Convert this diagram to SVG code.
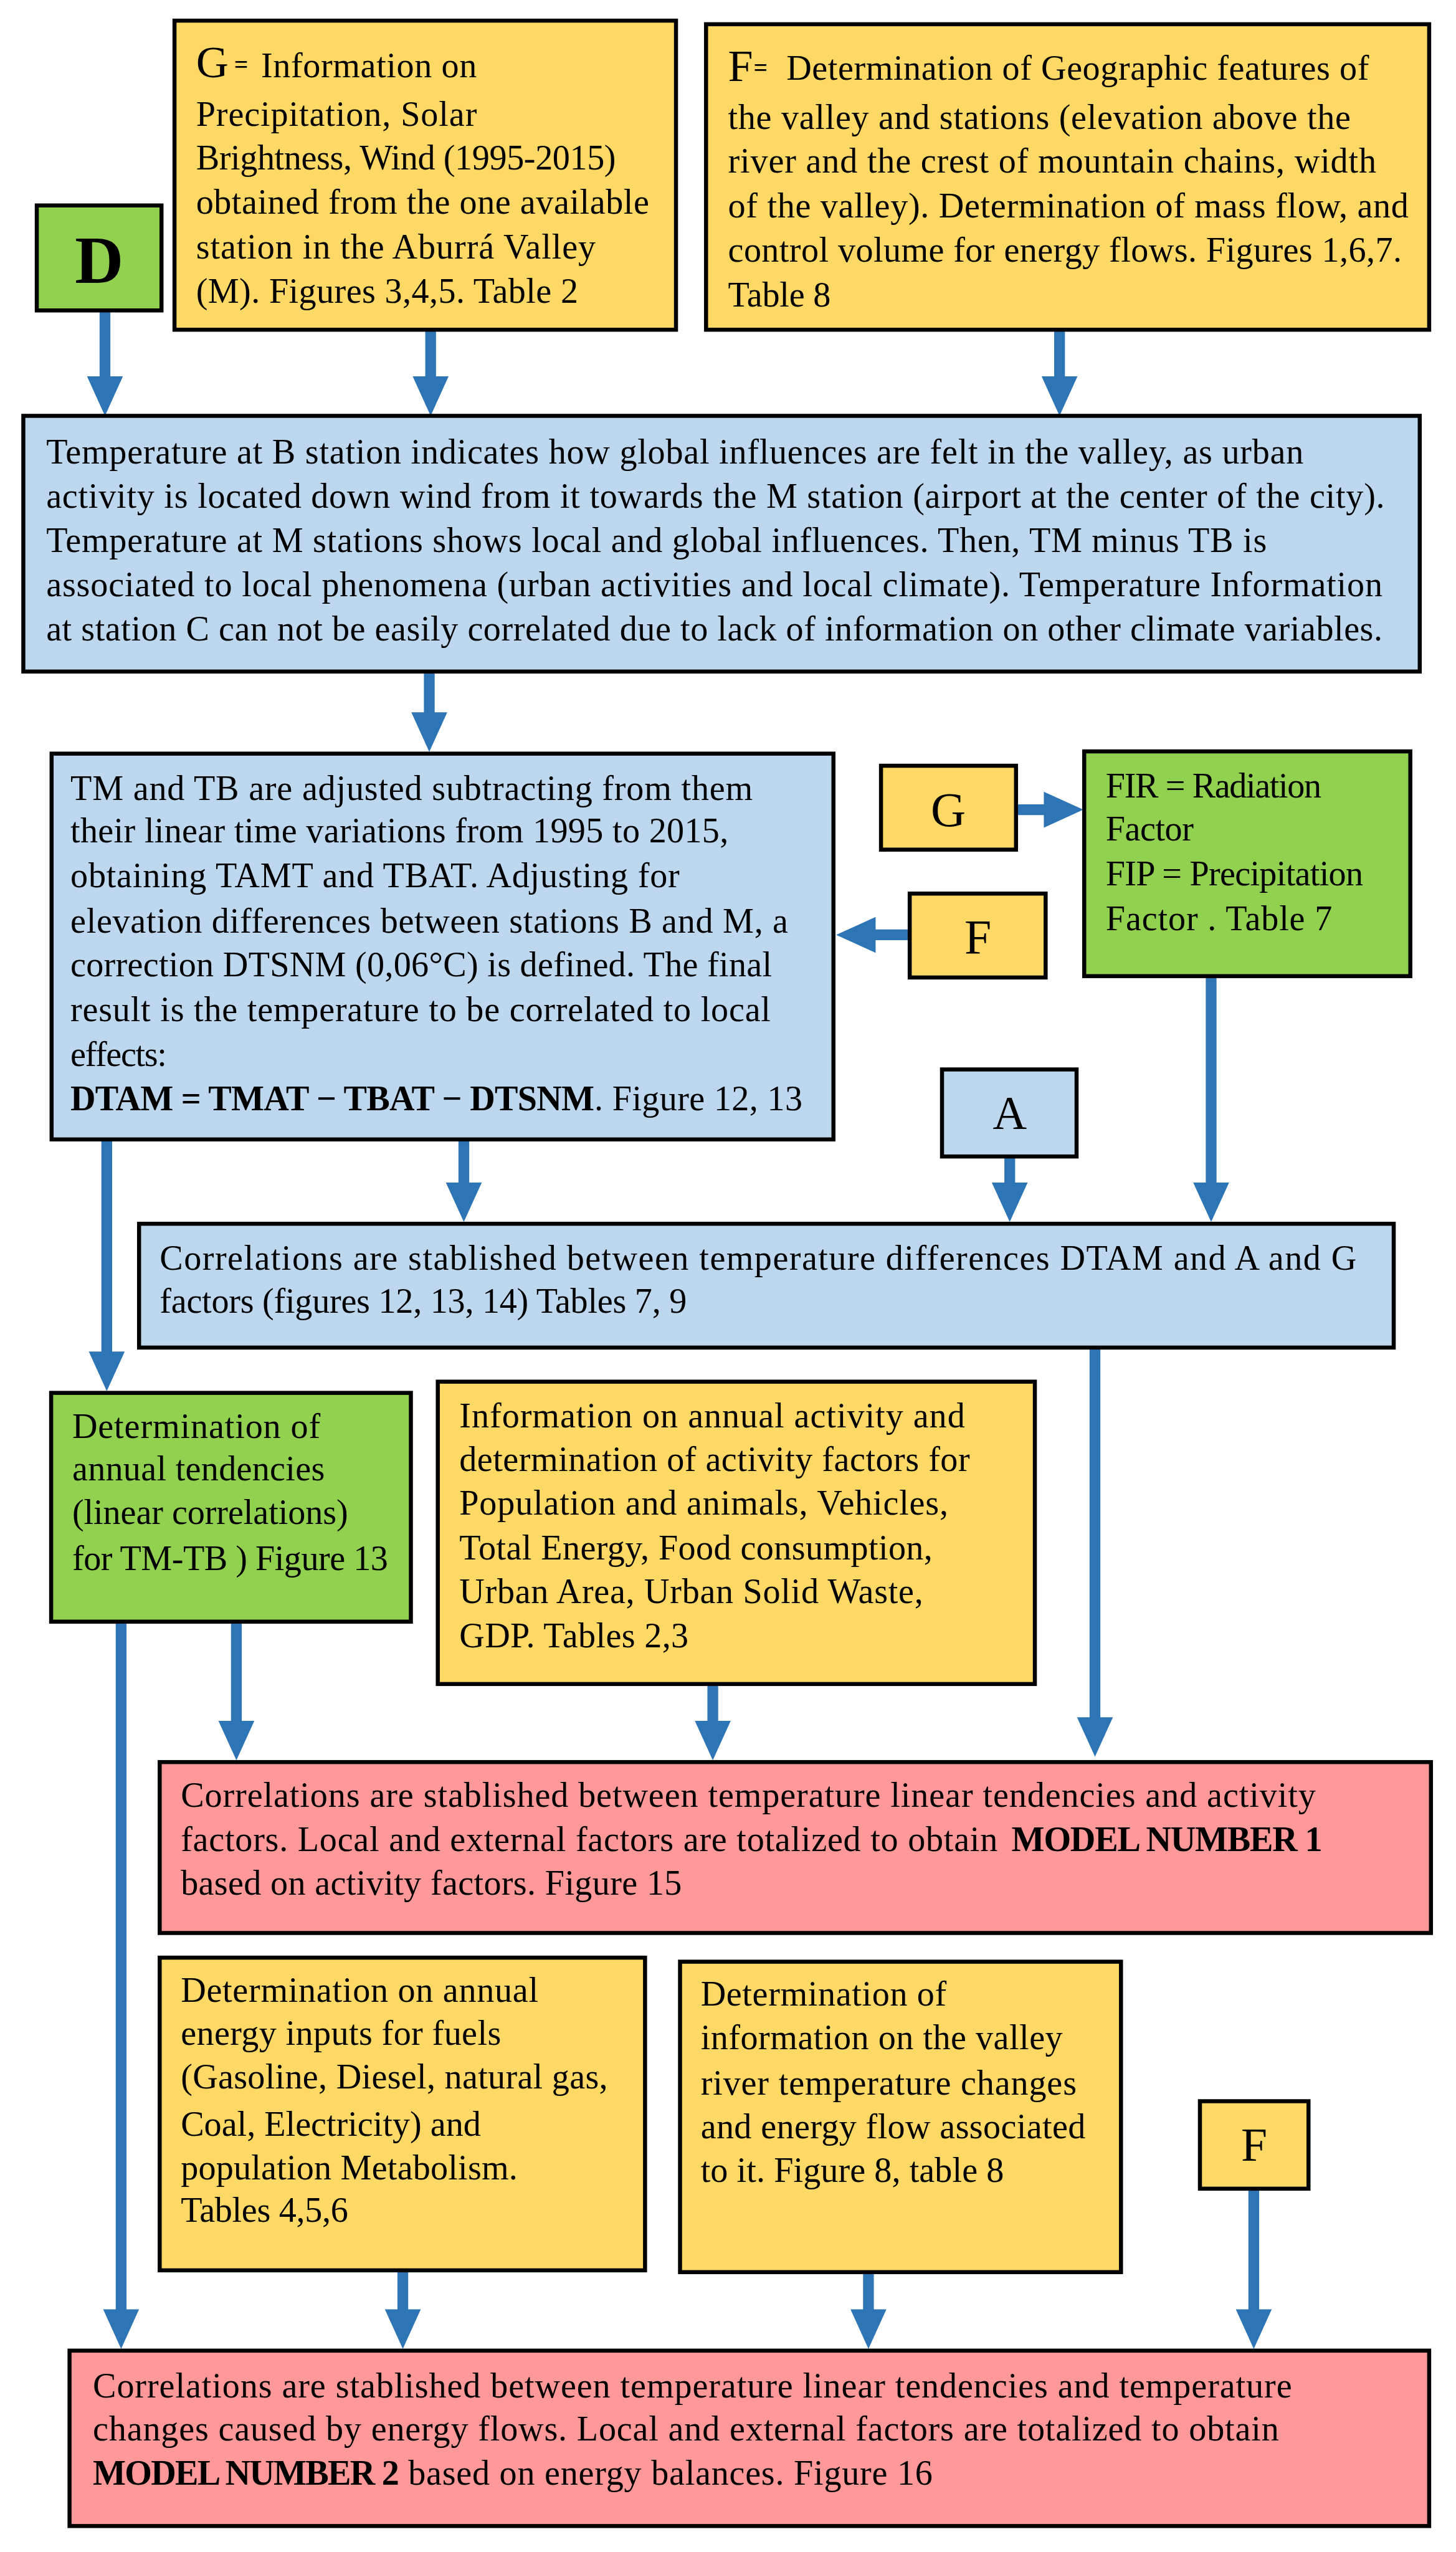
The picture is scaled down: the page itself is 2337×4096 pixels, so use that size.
<svg xmlns="http://www.w3.org/2000/svg" width="2337" height="4096" viewBox="0 0 2337 4096">
<defs>
<style>
.box{stroke:#000;stroke-width:9}
.y{fill:#FFD966}.b{fill:#BDD7EE}.g{fill:#92D050}.r{fill:#FF9999}
text{font-family:"Liberation Serif","Times New Roman",serif;font-size:78px;fill:#000}
.big{font-size:108px;text-anchor:middle}
.eq{font-size:55px;font-weight:bold}
.bold{font-weight:bold}
#connectors line{stroke:#2E75B6;stroke-width:24;marker-end:url(#ah)}
</style>
<marker id="ah" markerUnits="userSpaceOnUse" markerWidth="90" markerHeight="80" refX="2" refY="40" orient="auto" overflow="visible">
<path d="M0,0 L88,40 L0,80 z" fill="#2E75B6"/>
</marker>
</defs>
<rect width="2337" height="4096" fill="#fff"/>
<g transform="scale(0.72)">
<g id="connectors">
<line x1="234" y1="692" x2="234" y2="841"/>
<line x1="960" y1="735" x2="960" y2="841"/>
<line x1="2362" y1="735" x2="2362" y2="841"/>
<line x1="957" y1="1497" x2="957" y2="1590"/>
<line x1="2265" y1="1805" x2="2329" y2="1805"/>
<line x1="2028" y1="2084" x2="1950" y2="2084"/>
<line x1="1034" y1="2540" x2="1034" y2="2638"/>
<line x1="2251" y1="2578" x2="2251" y2="2638"/>
<line x1="2700" y1="2176" x2="2700" y2="2638"/>
<line x1="238" y1="2540" x2="238" y2="3015"/>
<line x1="2441" y1="3004" x2="2441" y2="3830"/>
<line x1="527" y1="3615" x2="527" y2="3838"/>
<line x1="1589" y1="3754" x2="1589" y2="3838"/>
<line x1="270" y1="3615" x2="270" y2="5150"/>
<line x1="898" y1="5061" x2="898" y2="5150"/>
<line x1="1936" y1="5065" x2="1936" y2="5150"/>
<line x1="2795" y1="4879" x2="2795" y2="5150"/>
</g>

<g id="nodeD">
<rect class="box g" x="82" y="458" width="278" height="234"/>
<text class="big bold" x="221" y="630" style="font-size:150px">D</text>
</g>

<g id="nodeG">
<rect class="box y" x="389" y="46" width="1118" height="689"/>
<text x="437" y="172" style="font-size:100px">G</text>
<text class="eq" x="522" y="162">=</text>
<text x="582" y="172" textLength="481">Information on</text>
<text x="437" y="280" textLength="626">Precipitation, Solar</text>
<text x="437" y="378" textLength="936">Brightness, Wind (1995-2015)</text>
<text x="437" y="477" textLength="1010">obtained from the one available</text>
<text x="437" y="576" textLength="891">station in the Aburrá Valley</text>
<text x="437" y="675" textLength="852">(M). Figures 3,4,5. Table 2</text>
</g>

<g id="nodeF">
<rect class="box y" x="1574" y="54" width="1612" height="681"/>
<text x="1623" y="181" style="font-size:100px">F</text>
<text class="eq" x="1680" y="170">=</text>
<text x="1753" y="178" textLength="1299">Determination of Geographic features of</text>
<text x="1623" y="287" textLength="1388">the valley and stations (elevation above the</text>
<text x="1623" y="385" textLength="1445">river and the crest of mountain chains, width</text>
<text x="1623" y="485" textLength="1517">of the valley). Determination of mass flow, and</text>
<text x="1623" y="583" textLength="1502">control volume for energy flows. Figures 1,6,7.</text>
<text x="1623" y="683" textLength="229">Table 8</text>
</g>

<g id="nodeTemp">
<rect class="box b" x="52" y="927" width="3113" height="570"/>
<text x="103" y="1034" textLength="2803">Temperature at B station indicates how global influences are felt in the valley, as urban</text>
<text x="103" y="1132" textLength="2984">activity is located down wind from it towards the M station (airport at the center of the city).</text>
<text x="103" y="1231" textLength="2721">Temperature at M stations shows local and global influences. Then, TM minus TB is</text>
<text x="103" y="1329" textLength="2979">associated to local phenomena (urban activities and local climate). Temperature Information</text>
<text x="103" y="1428" textLength="2979">at station C can not be easily correlated due to lack of information on other climate variables.</text>
</g>

<g id="nodeTM">
<rect class="box b" x="115" y="1680" width="1743" height="860"/>
<text x="157" y="1783" textLength="1521">TM and TB are adjusted subtracting from them</text>
<text x="157" y="1878" textLength="1467">their linear time variations from 1995 to 2015,</text>
<text x="157" y="1978" textLength="1358">obtaining TAMT and TBAT. Adjusting for</text>
<text x="157" y="2079" textLength="1600">elevation differences between stations B and M, a</text>
<text x="157" y="2176" textLength="1564">correction DTSNM (0,06°C) is defined. The final</text>
<text x="157" y="2277" textLength="1561">result is the temperature to be correlated to local</text>
<text x="157" y="2376" textLength="215">effects:</text>
<text class="bold" x="157" y="2475" textLength="1168">DTAM = TMAT − TBAT − DTSNM</text>
<text x="1325" y="2475" textLength="464">. Figure 12, 13</text>
</g>

<g id="nodeG2">
<rect class="box y" x="1964" y="1707" width="301" height="187"/>
<text class="big" x="2114" y="1842">G</text>
</g>

<g id="nodeF2">
<rect class="box y" x="2028" y="1992" width="303" height="187"/>
<text class="big" x="2180" y="2125">F</text>
</g>

<g id="nodeFIR">
<rect class="box g" x="2417" y="1675" width="727" height="501"/>
<text x="2465" y="1778" textLength="481">FIR = Radiation</text>
<text x="2465" y="1873" textLength="196">Factor</text>
<text x="2465" y="1973" textLength="574">FIP = Precipitation</text>
<text x="2465" y="2073" textLength="505">Factor . Table 7</text>
</g>

<g id="nodeA">
<rect class="box b" x="2100" y="2384" width="300" height="194"/>
<text class="big" x="2251" y="2516" style="font-size:105px">A</text>
</g>

<g id="nodeCorr">
<rect class="box b" x="310" y="2728" width="2797" height="276"/>
<text x="356" y="2830" textLength="2668">Correlations are stablished between temperature differences DTAM and A and G</text>
<text x="356" y="2926" textLength="1175">factors (figures 12, 13, 14) Tables 7, 9</text>
</g>

<g id="nodeTend">
<rect class="box g" x="114" y="3105" width="802" height="510"/>
<text x="161" y="3206" textLength="553">Determination of</text>
<text x="161" y="3300" textLength="563">annual tendencies</text>
<text x="161" y="3397" textLength="615">(linear correlations)</text>
<text x="161" y="3500" textLength="704">for TM-TB ) Figure 13</text>
</g>

<g id="nodeActivity">
<rect class="box y" x="976" y="3080" width="1331" height="674"/>
<text x="1024" y="3182" textLength="1127">Information on annual activity and</text>
<text x="1024" y="3279" textLength="1138">determination of activity factors for</text>
<text x="1024" y="3376" textLength="1090">Population and animals, Vehicles,</text>
<text x="1024" y="3476" textLength="1055">Total Energy, Food consumption,</text>
<text x="1024" y="3573" textLength="1034">Urban Area, Urban Solid Waste,</text>
<text x="1024" y="3672" textLength="511">GDP. Tables 2,3</text>
</g>

<g id="nodeModel1">
<rect class="box r" x="356" y="3928" width="2834" height="381"/>
<text x="403" y="4028" textLength="2530">Correlations are stablished between temperature linear tendencies and activity</text>
<text x="403" y="4126" textLength="1821">factors. Local and external factors are totalized to obtain</text>
<text class="bold" x="2255" y="4126" textLength="693">MODEL NUMBER 1</text>
<text x="403" y="4224" textLength="1117">based on activity factors. Figure 15</text>
</g>

<g id="nodeEnergy">
<rect class="box y" x="356" y="4364" width="1082" height="697"/>
<text x="403" y="4463" textLength="797">Determination on annual</text>
<text x="403" y="4559" textLength="714">energy inputs for fuels</text>
<text x="403" y="4655" textLength="952">(Gasoline, Diesel, natural gas,</text>
<text x="403" y="4761" textLength="669">Coal, Electricity) and</text>
<text x="403" y="4858" textLength="751">population Metabolism.</text>
<text x="403" y="4953" textLength="373">Tables 4,5,6</text>
</g>

<g id="nodeRiver">
<rect class="box y" x="1516" y="4373" width="983" height="692"/>
<text x="1562" y="4471" textLength="548">Determination of</text>
<text x="1562" y="4568" textLength="807">information on the valley</text>
<text x="1562" y="4669" textLength="838">river temperature changes</text>
<text x="1562" y="4766" textLength="858">and energy flow associated</text>
<text x="1562" y="4864" textLength="676">to it. Figure 8, table 8</text>
</g>

<g id="nodeF3">
<rect class="box y" x="2675" y="4684" width="242" height="195"/>
<text class="big" x="2796" y="4817" style="font-size:105px">F</text>
</g>

<g id="nodeModel2">
<rect class="box r" x="155" y="5240" width="3031" height="391"/>
<text x="207" y="5345" textLength="2673">Correlations are stablished between temperature linear tendencies and temperature</text>
<text x="207" y="5440" textLength="2644">changes caused by energy flows. Local and external factors are totalized to obtain</text>
<text class="bold" x="207" y="5539" textLength="683">MODEL NUMBER 2</text>
<text x="910" y="5539" textLength="1169">based on energy balances. Figure 16</text>
</g>
</g>
</svg>
